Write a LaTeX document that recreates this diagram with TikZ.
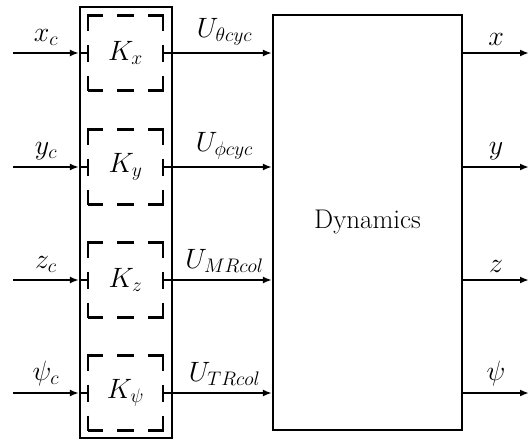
\RequirePackage{fix-cm}
\documentclass[tikz,border=0pt]{standalone}
\usepackage{amsmath}
\usetikzlibrary{arrows.meta, positioning}
\tikzset{gain/.style={draw, dash pattern=on 17pt off 14pt on 30pt off 14pt, dash phase=46pt, minimum width=75pt, minimum height=75pt, inner sep=0pt, line width=2.4pt}}
\tikzset{sig/.style={-{Latex[length=9pt,width=7pt]}, line width=1.8pt}}
\tikzset{lbl/.style={above, yshift=3pt}}

\begin{document}
\begin{tikzpicture}[x=1pt, y=-1pt, line width=2.2pt, font=\fontsize{28}{33}\selectfont]
\useasboundingbox (0,0) rectangle (530,442);
% controller block with the four gains
\node[draw, minimum width=92pt, minimum height=431pt, inner sep=0pt] (ctrl) at (126,222.5) {};
\node[gain] (Kx) at (125.5,53) {$K_x$};
\node[gain] (Ky) at (125.5,167) {$K_y$};
\node[gain] (Kz) at (125.5,280) {$K_z$};
\node[gain] (Kpsi) at (125.5,393) {$K_\psi$};
% plant
\node[draw, minimum width=189pt, minimum height=415pt, inner sep=0pt, font=\fontsize{27}{32}\selectfont] (dyn) at (367.5,222.5) {Dynamics};
% references in
\coordinate (xc) at (13,53);
\coordinate (yc) at (13,167);
\coordinate (zc) at (13,280);
\coordinate (psic) at (13,393);
\draw[sig] (xc) -- (ctrl.west |- xc) node[midway,lbl]{$x_c$};
\draw[sig] (yc) -- (ctrl.west |- yc) node[midway,lbl]{$y_c$};
\draw[sig] (zc) -- (ctrl.west |- zc) node[midway,lbl]{$z_c$};
\draw[sig] (psic) -- (ctrl.west |- psic) node[midway,lbl]{$\psi_c$};
\draw[line width=1.8pt] (ctrl.west |- xc) -- (Kx.west);
\draw[line width=1.8pt] (ctrl.west |- yc) -- (Ky.west);
\draw[line width=1.8pt] (ctrl.west |- zc) -- (Kz.west);
\draw[line width=1.8pt] (ctrl.west |- psic) -- (Kpsi.west);
% control inputs
\draw[sig] (Kx.east) -- (Kx.east -| dyn.west) node[pos=0.56,lbl]{$U_{\theta cyc}$};
\draw[sig] (Ky.east) -- (Ky.east -| dyn.west) node[pos=0.56,lbl]{$U_{\phi cyc}$};
\draw[sig] (Kz.east) -- (Kz.east -| dyn.west) node[pos=0.56,lbl]{$U_{MRcol}$};
\draw[sig] (Kpsi.east) -- (Kpsi.east -| dyn.west) node[pos=0.56,lbl]{$U_{TRcol}$};
% states out
\coordinate (xo) at (529,53);
\coordinate (yo) at (529,167);
\coordinate (zo) at (529,280);
\coordinate (psio) at (529,393);
\draw[sig] (dyn.east |- xo) -- (xo) node[midway,lbl]{$x$};
\draw[sig] (dyn.east |- yo) -- (yo) node[midway,lbl]{$y$};
\draw[sig] (dyn.east |- zo) -- (zo) node[midway,lbl]{$z$};
\draw[sig] (dyn.east |- psio) -- (psio) node[midway,lbl]{$\psi$};
\end{tikzpicture}
\end{document}
